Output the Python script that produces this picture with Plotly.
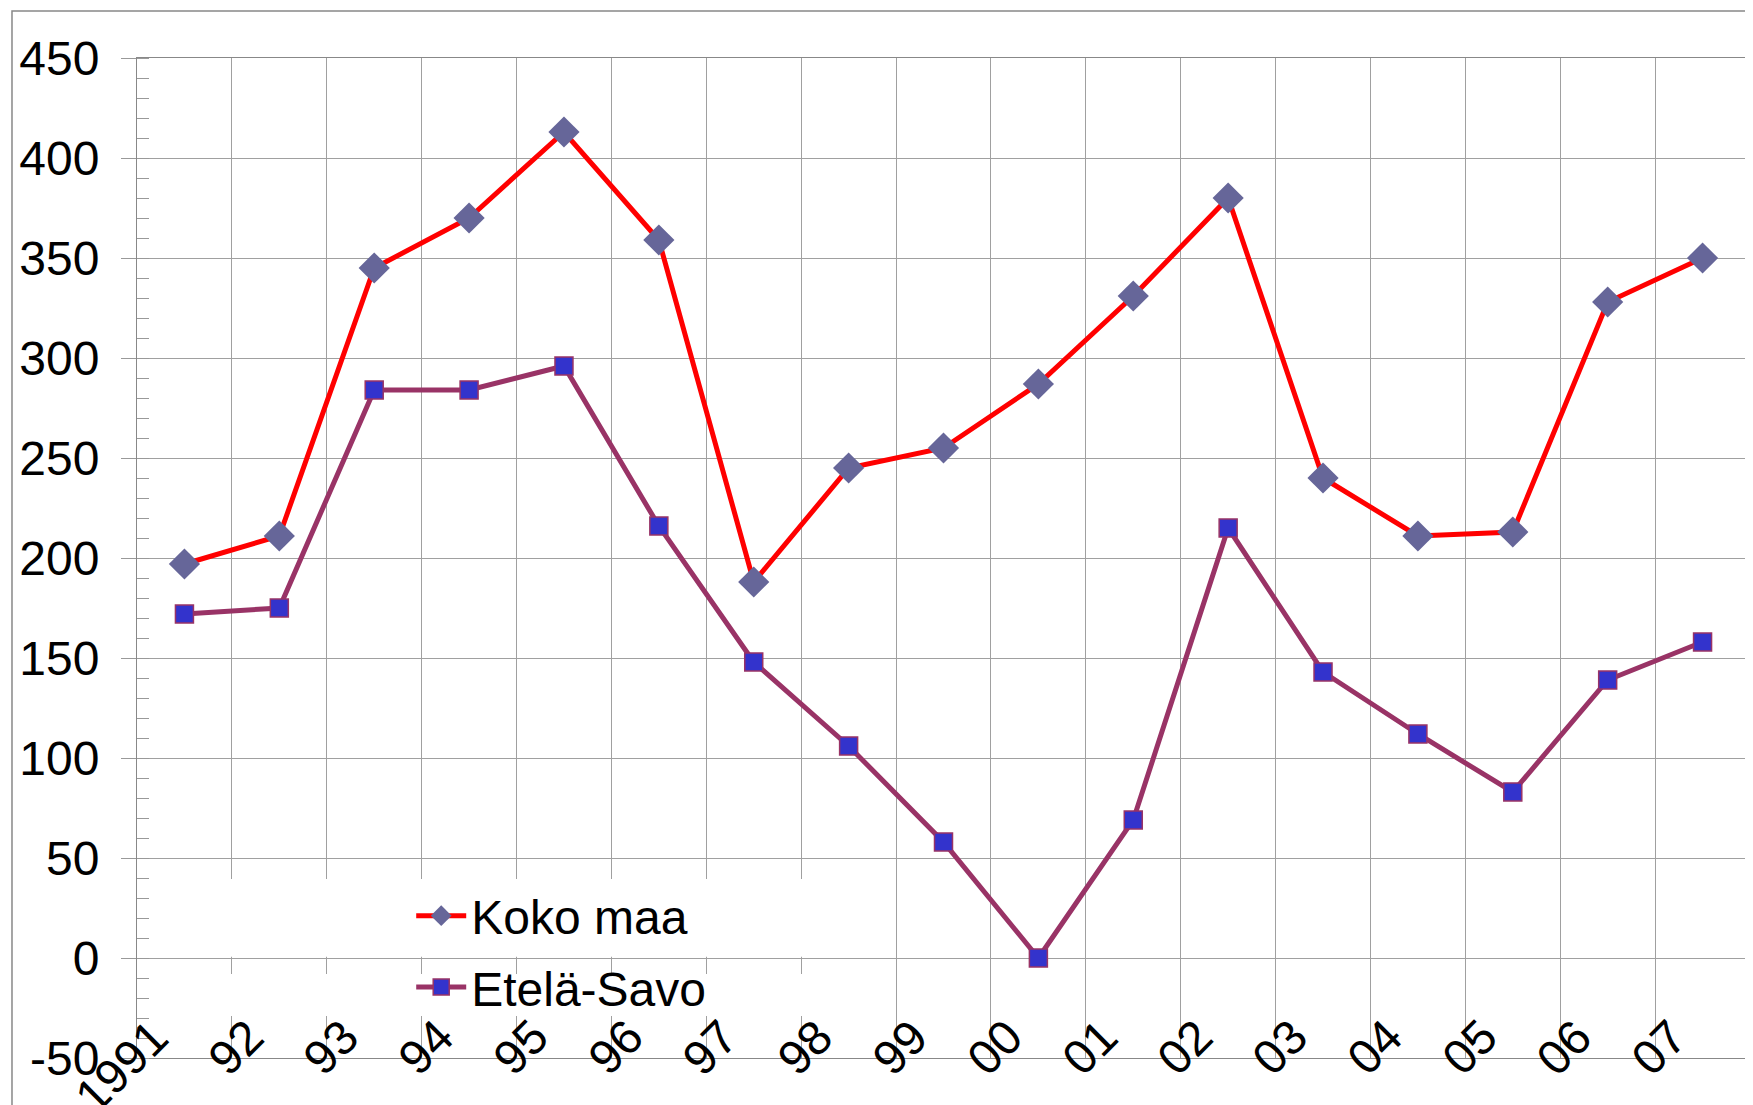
import plotly.graph_objects as go

years = ["1991", "92", "93", "94", "95", "96", "97", "98", "99",
         "00", "01", "02", "03", "04", "05", "06", "07"]
koko_maa = [197, 211, 345, 370, 413, 359, 188, 245, 255,
            287, 331, 380, 240, 211, 213, 328, 350]
etela_savo = [172, 175, 284, 284, 296, 216, 148, 106, 58,
              0, 69, 215, 143, 112, 83, 139, 158]
y_ticks = [-50, 0, 50, 100, 150, 200, 250, 300, 350, 400, 450]
y_labels = ["-50", "0", "50", "100", "150", "200", "250", "300", "350", "400", "450"]

# points sit in the middle of each year slot, labels on the slot edges
xpos = [i + 0.5 for i in range(len(years))]

grid = "#a0a0a0"
font = dict(family="Liberation Sans, Arial, sans-serif", size=48, color="black")

fig = go.Figure()

fig.add_trace(go.Scatter(
    x=xpos, y=koko_maa, name="Koko maa", mode="lines+markers",
    legendgroup="a",
    line=dict(color="#ff0000", width=5),
    marker=dict(symbol="diamond", size=24, color="#666699"),
))
fig.add_trace(go.Scatter(
    x=xpos, y=etela_savo, name="Etelä-Savo", mode="lines+markers",
    legendgroup="b",
    line=dict(color="#993366", width=5),
    marker=dict(symbol="square", size=18, color="#3333cc",
                line=dict(color="#993366", width=1.5)),
))

# white patch behind legend (hides grid), zero line stays visible
shapes = [
    dict(type="rect", xref="x", yref="y", x0=0.03, x1=7.93, y0=0.6, y1=39.5,
         fillcolor="white", line_width=0, layer="between"),
    dict(type="rect", xref="x", yref="y", x0=0.03, x1=7.93, y0=-29, y1=-8,
         fillcolor="white", line_width=0, layer="between"),
    # outer chart frame
    dict(type="rect", xref="paper", yref="paper", x0=-0.0775, x1=1.02,
         y0=-0.08, y1=1.047, line=dict(color="#888888", width=1.5),
         fillcolor="rgba(0,0,0,0)"),
]

# slanted year labels, drawn as annotations so they can overlap the axis
annotations = [
    dict(x=i, y=0.051, xref="x", yref="paper", text=lab, showarrow=False,
         textangle=-45, xanchor="right", yanchor="top", xshift=44,
         font=font)
    for i, lab in enumerate(years)
]

fig.update_layout(
    width=1753, height=1105,
    margin=dict(l=129, r=11, t=50, b=55, autoexpand=False),
    paper_bgcolor="white", plot_bgcolor="white",
    font=font,
    shapes=shapes,
    annotations=annotations,
    legend=dict(x=0.17, y=0.18, xanchor="left", yanchor="top",
                bgcolor="rgba(0,0,0,0)", font=font, itemwidth=50,
                tracegroupgap=6),
    showlegend=True,
)

fig.update_xaxes(
    range=[0, len(years)], automargin=False,
    tickmode="array", tickvals=list(range(len(years))),
    showticklabels=False, ticks="",
    showgrid=True, gridcolor=grid, gridwidth=1,
    showline=True, linecolor="#888888", linewidth=1, mirror=True,
    zeroline=False,
)
fig.update_yaxes(
    range=[-50, 450], automargin=False,
    tickmode="array", tickvals=y_ticks, ticktext=y_labels,
    ticks="outside", ticklen=15, tickcolor="#999999",
    minor=dict(dtick=10, tick0=0, ticks="inside", ticklen=12,
               tickcolor="#999999", showgrid=False),
    showgrid=True, gridcolor=grid, gridwidth=1,
    zeroline=True, zerolinecolor=grid, zerolinewidth=1,
    showline=True, linecolor="#888888", linewidth=1, mirror=True,
    ticklabelstandoff=12, tickfont=font,
)

fig.write_html("out.html")
